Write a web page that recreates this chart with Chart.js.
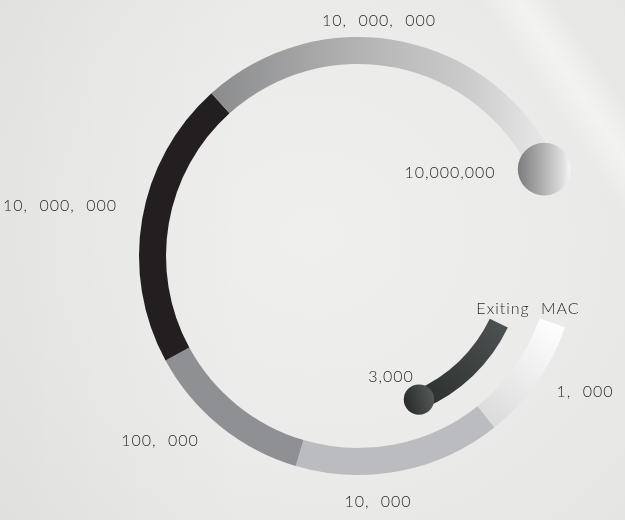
<!DOCTYPE html>
<html><head><meta charset="utf-8">
<script src="https://cdn.jsdelivr.net/npm/chart.js@4.4.1/dist/chart.umd.min.js"></script>
<style>
html,body{margin:0;padding:0;width:625px;height:520px;overflow:hidden;}
body{
  background:
    linear-gradient(56deg, rgba(255,255,255,0) 85%, rgba(255,255,255,0.45) 89%, rgba(255,255,255,0) 93%),
    linear-gradient(90deg, rgba(0,0,0,0.025) 0%, rgba(0,0,0,0) 40%),
    radial-gradient(ellipse at 50% 45%, #efefed 0%, #ebebe9 55%, #e5e5e3 100%);
}
#wrap{position:relative;width:625px;height:520px;}
</style></head><body>
<div id="wrap"><canvas id="c" width="625" height="520"></canvas></div>
<script>
// Outer ring segments (clockwise from the open end), spans in degrees
const ringLabels = ['1, 000', '10, 000', '100, 000', '10, 000, 000', '10, 000, 000'];
const ringSpans  = [32.5, 55, 45, 76.5, 107];
const ringGap    = 44;
const ringStart  = 109;
// Inner arc
const innerLabel = '3,000';
const innerLead  = 6.5;
const innerSpan  = 41.5;
// Extra annotations
const endLabel   = '10,000,000';
const innerTitle = 'Exiting MAC';

const solid = ['#ffffff', '#bbbcbf', '#8f9093', '#231f20', '#aaaaaa'];

function center(chart){
  const a = chart.chartArea;
  return {x:(a.left+a.right)/2, y:(a.top+a.bottom)/2, r:Math.min(a.right-a.left, a.bottom-a.top)/2};
}

function ringColor(ctx){
  const chart = ctx.chart, i = ctx.dataIndex;
  if (i >= ringSpans.length) return 'rgba(0,0,0,0)';
  if (!chart.chartArea) return solid[i];
  const c = center(chart), g2 = chart.ctx;
  if (i === 4) {
    const g = g2.createLinearGradient(c.x - c.r, 0, c.x + c.r, 0);
    g.addColorStop(0.00, '#858688');
    g.addColorStop(0.18, '#8c8d8f');
    g.addColorStop(0.50, '#b3b3b3');
    g.addColorStop(0.75, '#cbcbcb');
    g.addColorStop(0.89, '#e2e2e2');
    g.addColorStop(1.00, '#efefef');
    return g;
  }
  if (i === 0) {
    const g = g2.createLinearGradient(c.x + 0.55*c.r, c.y + 0.78*c.r, c.x + 0.92*c.r, c.y + 0.30*c.r);
    g.addColorStop(0, '#d8d8d8');
    g.addColorStop(0.5, '#ececec');
    g.addColorStop(1, '#ffffff');
    return g;
  }
  return solid[i];
}

function innerColor(ctx){
  const chart = ctx.chart, i = ctx.dataIndex;
  if (i !== 1) return 'rgba(0,0,0,0)';
  if (!chart.chartArea) return '#353b3a';
  const c = center(chart);
  const g = chart.ctx.createLinearGradient(c.x + 0.25*c.r, c.y + 0.70*c.r, c.x + 0.68*c.r, c.y + 0.30*c.r);
  g.addColorStop(0, '#282d2c');
  g.addColorStop(1, '#4d5352');
  return g;
}

const ballPlugin = {
  id: 'balls',
  afterDatasetsDraw(chart){
    const ctx = chart.ctx;
    // ball at the end of the outer ring
    const m0 = chart.getDatasetMeta(0).data[4];
    const p0 = m0.getProps(['x','y','endAngle','innerRadius','outerRadius'], true);
    const r0 = (p0.innerRadius + p0.outerRadius)/2;
    const bx = p0.x + Math.cos(p0.endAngle)*r0, by = p0.y + Math.sin(p0.endAngle)*r0;
    const br = (p0.outerRadius - p0.innerRadius)*0.98;
    let g = ctx.createLinearGradient(bx - br, 0, bx + br, 0);
    g.addColorStop(0, '#7b7c7e');
    g.addColorStop(0.45, '#aeaeae');
    g.addColorStop(0.85, '#dedede');
    g.addColorStop(1, '#f6f6f6');
    ctx.save();
    ctx.beginPath(); ctx.arc(bx, by, br, 0, Math.PI*2); ctx.fillStyle = g; ctx.fill();
    // ball at the end of the inner arc
    const m2 = chart.getDatasetMeta(2).data[1];
    const p2 = m2.getProps(['x','y','endAngle','innerRadius','outerRadius'], true);
    const r2 = (p2.innerRadius + p2.outerRadius)/2;
    const ix = p2.x + Math.cos(p2.endAngle)*r2, iy = p2.y + Math.sin(p2.endAngle)*r2;
    const ir = (p2.outerRadius - p2.innerRadius)*0.76;
    g = ctx.createLinearGradient(ix - ir, iy + ir*0.3, ix + ir, iy - ir*0.3);
    g.addColorStop(0, '#262b2a');
    g.addColorStop(1, '#545a59');
    ctx.beginPath(); ctx.arc(ix, iy, ir, 0, Math.PI*2); ctx.fillStyle = g; ctx.fill();
    ctx.restore();
  }
};

// text placement, offsets from the chart centre
const labelPlacement = [
  {text: () => ringLabels[0], dx: 227, dy: 136},
  {text: () => ringLabels[1], dx: 20,  dy: 246},
  {text: () => ringLabels[2], dx: -198, dy: 185},
  {text: () => ringLabels[3], dx: -298, dy: -50},
  {text: () => ringLabels[4], dx: 21,  dy: -235},
  {text: () => endLabel,      dx: 92,  dy: -83},
  {text: () => innerTitle,    dx: 170, dy: 53},
  {text: () => innerLabel,    dx: 33,  dy: 121}
];

const textPlugin = {
  id: 'texts',
  afterDraw(chart){
    const ctx = chart.ctx, c = center(chart);
    ctx.save();
    ctx.font = '300 16px Lato';
    ctx.fillStyle = '#2a2a2a';
    ctx.textAlign = 'center';
    ctx.textBaseline = 'middle';
    try { ctx.letterSpacing = '1px'; ctx.wordSpacing = '6px'; } catch(e) {}
    labelPlacement.forEach(l => ctx.fillText(l.text(), c.x + l.dx, c.y + l.dy));
    ctx.restore();
  }
};

new Chart(document.getElementById('c'), {
  type: 'doughnut',
  data: {
    labels: [...ringLabels, ''],
    datasets: [
      {data: [...ringSpans, ringGap], backgroundColor: ringColor, borderWidth: 0, hoverBorderWidth: 0, offset: 0, hoverOffset: 0, weight: 27},
      {data: [360], backgroundColor: 'rgba(0,0,0,0)', borderWidth: 0, hoverBorderWidth: 0, offset: 0, hoverOffset: 0, weight: 26},
      {data: [innerLead, innerSpan, 360 - innerLead - innerSpan], backgroundColor: innerColor, borderWidth: 0, hoverBorderWidth: 0, offset: 0, hoverOffset: 0, weight: 20}
    ]
  },
  options: {
    responsive: false,
    animation: false,
    events: [],
    rotation: ringStart,
    cutout: 146,
    layout: {padding: {left: 139, right: 48, top: 37, bottom: 45}},
    plugins: {legend: {display: false}, tooltip: {enabled: false}}
  },
  plugins: [ballPlugin, textPlugin]
});
</script>
</body></html>
